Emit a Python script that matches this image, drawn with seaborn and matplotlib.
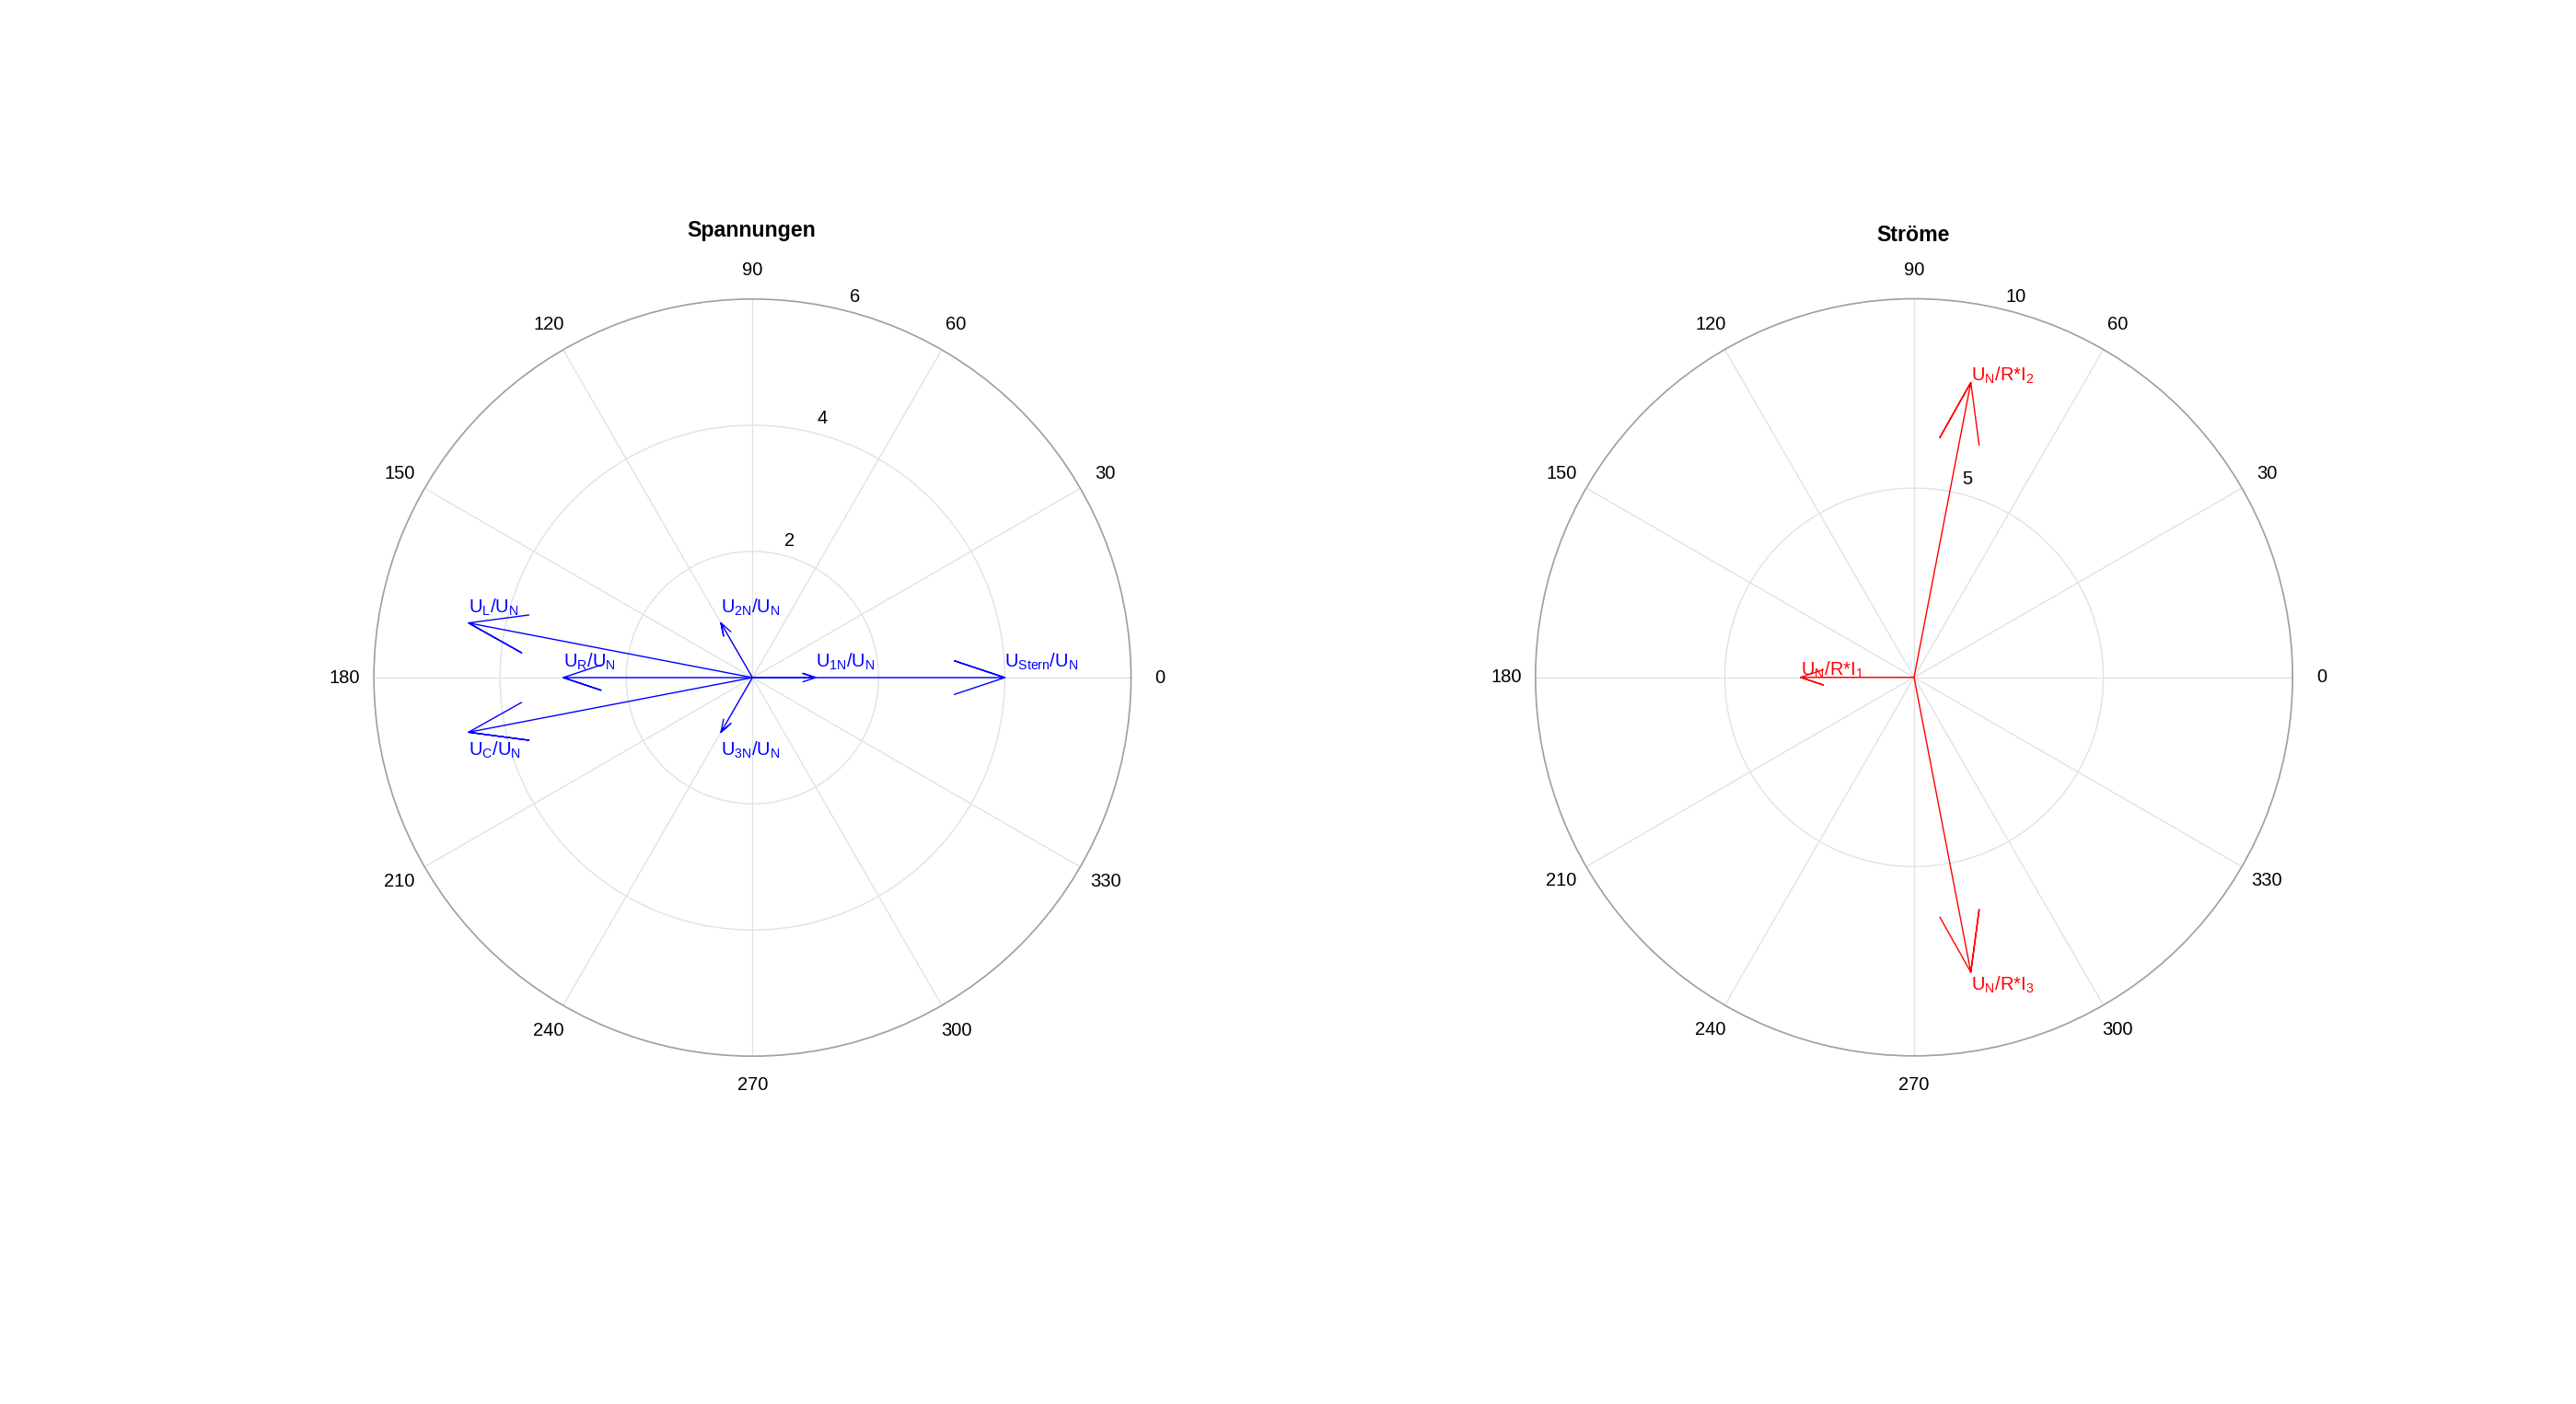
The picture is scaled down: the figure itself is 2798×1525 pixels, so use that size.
import numpy as np
import pandas as pd
import matplotlib
matplotlib.use("Agg")
import matplotlib.pyplot as plt
import seaborn as sns

# ---------------- data ----------------
volt_labels = [r"$U_{1N}/U_N$", r"$U_{2N}/U_N$", r"$U_{3N}/U_N$",
               r"$U_{Stern}/U_N$", r"$U_R/U_N$", r"$U_L/U_N$", r"$U_C/U_N$"]
volt_re = [1.0, -0.5, -0.5, 4.0, -3.0, -4.5, -4.5]
volt_im = [0.0, 0.866, -0.866, 0.0, 0.0, 0.866, -0.866]

curr_labels = [r"$U_N$/R*I$_1$", r"$U_N$/R*I$_2$", r"$U_N$/R*I$_3$"]
curr_re = [-3.0, 1.5, 1.5]
curr_im = [0.0, 7.79, -7.79]

angle_ticks = list(range(0, 360, 30))
volt_rings = [2, 4, 6]
curr_rings = [5, 10]
titles = ["Spannungen", "Ströme"]

# ---------------- style ----------------
sns.set_theme(style="white")
plt.rcParams["font.family"] = ["Liberation Sans", "DejaVu Sans"]
plt.rcParams["mathtext.default"] = "regular"

W, H = 2798, 1525
fig = plt.figure(figsize=(W / 100, H / 100), dpi=100)

HEAD_LEN = 0.2
HEAD_W = 0.2 / 3
PX_R = 411.2  # outer radius in pixels
TICK_FS = 14.5
LABEL_FS = 14.5
TITLE_FS = 16.7


def arrow_frame(re, im):
    rows = []
    d = np.arctan2(HEAD_W, 1 - HEAD_LEN)
    for i, (x, y) in enumerate(zip(re, im)):
        L = np.hypot(x, y)
        th = np.arctan2(y, x)
        rs = L * np.hypot(1 - HEAD_LEN, HEAD_W)
        pts = [(th, 0.0), (th, L), (th + d, rs), (th, L), (th - d, rs)]
        for k, (t, r) in enumerate(pts):
            rows.append(dict(vec=i, order=k, theta=t, r=r))
    return pd.DataFrame(rows)


def setup_polar(ax, rings):
    rmax = rings[-1]
    ax.set_theta_zero_location("E")
    ax.set_theta_direction(1)
    ax.set_thetagrids(angle_ticks, labels=[str(a) for a in angle_ticks])
    ax.set_rlim(0, rmax)
    ax.set_rticks(rings)
    ax.set_yticklabels([])
    ax.grid(True, color="#e2e2e2", lw=1.0, ls="-")
    ax.spines["polar"].set_color("#a0a0a0")
    ax.spines["polar"].set_linewidth(1.2)
    ax.tick_params(axis="x", pad=15.6, labelsize=TICK_FS, colors="black", length=0)
    ax.set_facecolor("white")
    off = 17.0 / PX_R * rmax
    for rv in rings:
        ax.text(np.deg2rad(75), rv + off, str(rv), ha="center", va="center",
                fontsize=TICK_FS, color="black")


def draw_vectors(ax, re, im, labels, color, off_up, off_down):
    df = arrow_frame(re, im)
    sns.lineplot(data=df, x="theta", y="r", units="vec", estimator=None,
                 sort=False, color=color, lw=1.0, ax=ax, legend=False)
    ax.set_xlabel("")
    ax.set_ylabel("")
    for lab, x, y in zip(labels, re, im):
        th = np.arctan2(y, x)
        L = np.hypot(x, y)
        if y >= 0:
            ax.annotate(lab, (th, L), xytext=(0, off_up), textcoords="offset points",
                        ha="left", va="bottom", fontsize=LABEL_FS, color=color)
        else:
            ax.annotate(lab, (th, L), xytext=(0, -off_down), textcoords="offset points",
                        ha="left", va="top", fontsize=LABEL_FS, color=color)


size_w = 2 * PX_R / W
size_h = 2 * PX_R / H
centers = [(817.3, 736.0), (2079.0, 735.7)]
axes = []
for cx, cy in centers:
    left = (cx - PX_R) / W
    bottom = (H - cy - PX_R) / H
    axes.append(fig.add_axes([left, bottom, size_w, size_h], projection="polar"))

ax1, ax2 = axes
draw_vectors(ax1, volt_re, volt_im, volt_labels, "#0000ff", 4.3, 5.8)
setup_polar(ax1, volt_rings)
draw_vectors(ax2, curr_re, curr_im, curr_labels, "#ff0000", -2.5, 1.6)
setup_polar(ax2, curr_rings)

fig.text(816.7 / W, 1 - 256.7 / H, titles[0], ha="center", va="baseline",
         fontsize=TITLE_FS, fontweight="bold", color="black")
fig.text(2077.8 / W, 1 - 261.7 / H, titles[1], ha="center", va="baseline",
         fontsize=TITLE_FS, fontweight="bold", color="black")

fig.savefig("out.png", dpi=100, facecolor="white")
